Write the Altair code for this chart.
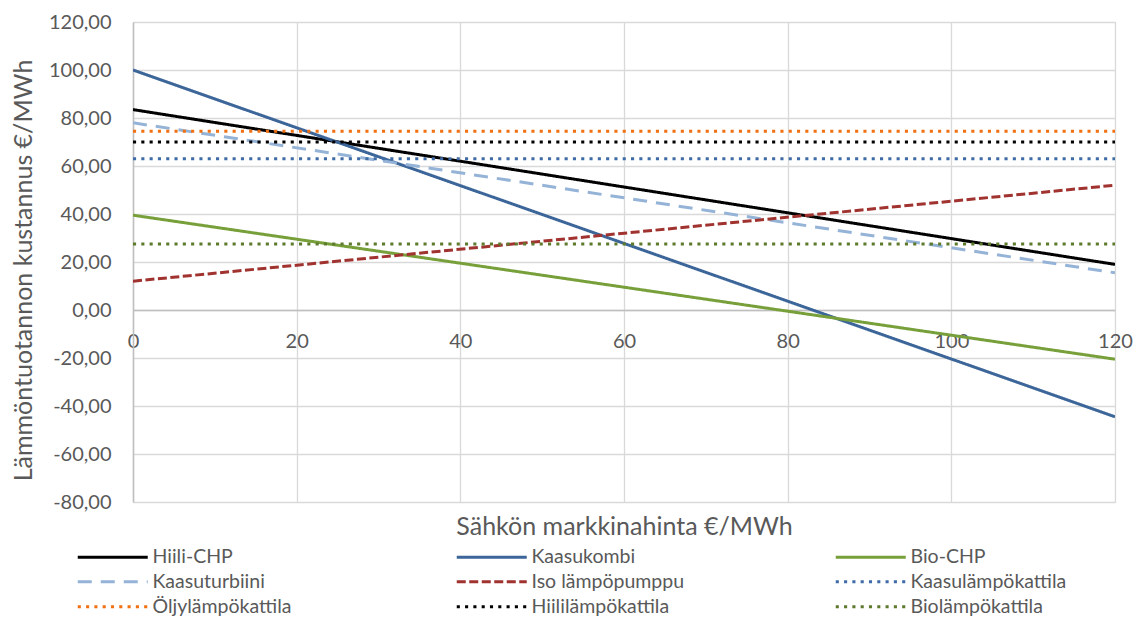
import altair as alt
import pandas as pd

series = ["Hiili-CHP", "Kaasukombi", "Bio-CHP", "Kaasuturbiini", "Iso lämpöpumppu",
          "Kaasulämpökattila", "Öljylämpökattila", "Hiililämpökattila", "Biolämpökattila"]
price = [0, 120]
cost_at_0 = [83.5, 100.0, 39.5, 78.0, 12.0, 63.0, 74.5, 70.0, 27.5]
cost_at_120 = [19.0, -44.5, -20.5, 15.5, 52.0, 63.0, 74.5, 70.0, 27.5]
colors = ["#000000", "#3C6699", "#77A03A", "#95B3D7", "#A0332F",
          "#3F6CA6", "#F07012", "#000000", "#5E7A2C"]
dashes = [[1, 0], [1, 0], [1, 0], [14, 9], [9, 3.5],
          [3.1, 5.2], [3.1, 5.2], [3.1, 5.2], [3.1, 5.2]]
x_ticks = [0, 20, 40, 60, 80, 100, 120]
y_ticks = [-80, -60, -40, -20, 0, 20, 40, 60, 80, 100, 120]

rows = []
for s, a, b in zip(series, cost_at_0, cost_at_120):
    rows.append({"sarja": s, "hinta": price[0], "kustannus": a})
    rows.append({"sarja": s, "hinta": price[1], "kustannus": b})
df = pd.DataFrame(rows)

FONT = "Lato"
TXT = "#595959"

chart = alt.Chart(df).mark_line(strokeWidth=3, clip=True).encode(
    x=alt.X("hinta:Q",
            scale=alt.Scale(domain=[0, 120], nice=False, zero=False),
            axis=alt.Axis(values=x_ticks, offset=-192, title="Sähkön markkinahinta €/MWh",
                          titleY=216, titleBaseline="middle", titleFontSize=25,
                          titleFontWeight="normal", titleColor=TXT, titleFont=FONT,
                          labelFontSize=20, labelColor=TXT, labelFont=FONT,
                          labelPadding=21, ticks=False, domainColor="#BFBFBF",
                          domainWidth=1.5, grid=True, gridColor="#D9D9D9", gridWidth=1.3,
                          labelFlush=False)),
    y=alt.Y("kustannus:Q",
            scale=alt.Scale(domain=[-80, 120], nice=False, zero=False),
            axis=alt.Axis(values=y_ticks, title="Lämmöntuotannon kustannus €/MWh",
                          labelExpr="replace((datum.value < 0 ? '-' : '') + format(abs(datum.value), '.2f'), '.', ',')",
                          titleFontSize=25, titleFontWeight="normal", titleColor=TXT,
                          titleFont=FONT, titleX=-110, titleY=248, titleBaseline="middle",
                          titleAngle=270, titleAlign="center",
                          labelFontSize=20, labelColor=TXT, labelFont=FONT,
                          labelPadding=22, ticks=False, domainColor="#BFBFBF",
                          domainWidth=1.5, grid=True, gridColor="#D9D9D9", gridWidth=1.3)),
    color=alt.Color("sarja:N", sort=series,
                    scale=alt.Scale(domain=series, range=colors),
                    legend=alt.Legend(title=None, orient="none", legendX=-30, legendY=525,
                                      columns=3, direction="horizontal", gridAlign="all",
                                      columnPadding=141, rowPadding=4,
                                      symbolType="M-5,0H5", symbolSize=196,
                                      symbolStrokeWidth=3, labelFontSize=19.5,
                                      labelColor=TXT, labelFont=FONT, labelOffset=30,
                                      labelLimit=400)),
    strokeDash=alt.StrokeDash("sarja:N", sort=series,
                              scale=alt.Scale(domain=series, range=dashes),
                              legend=None),
    order=alt.Order("hinta:Q"),
).properties(
    width=982, height=480,
    autosize=alt.AutoSizeParams(type="none"),
    padding={"left": 125, "top": 14, "right": 24, "bottom": 115},
).configure_view(
    stroke="#9DB9DE", strokeWidth=1.5
).configure(background="white")

chart.save("out.html", embed_options={"renderer": "svg", "actions": False})
